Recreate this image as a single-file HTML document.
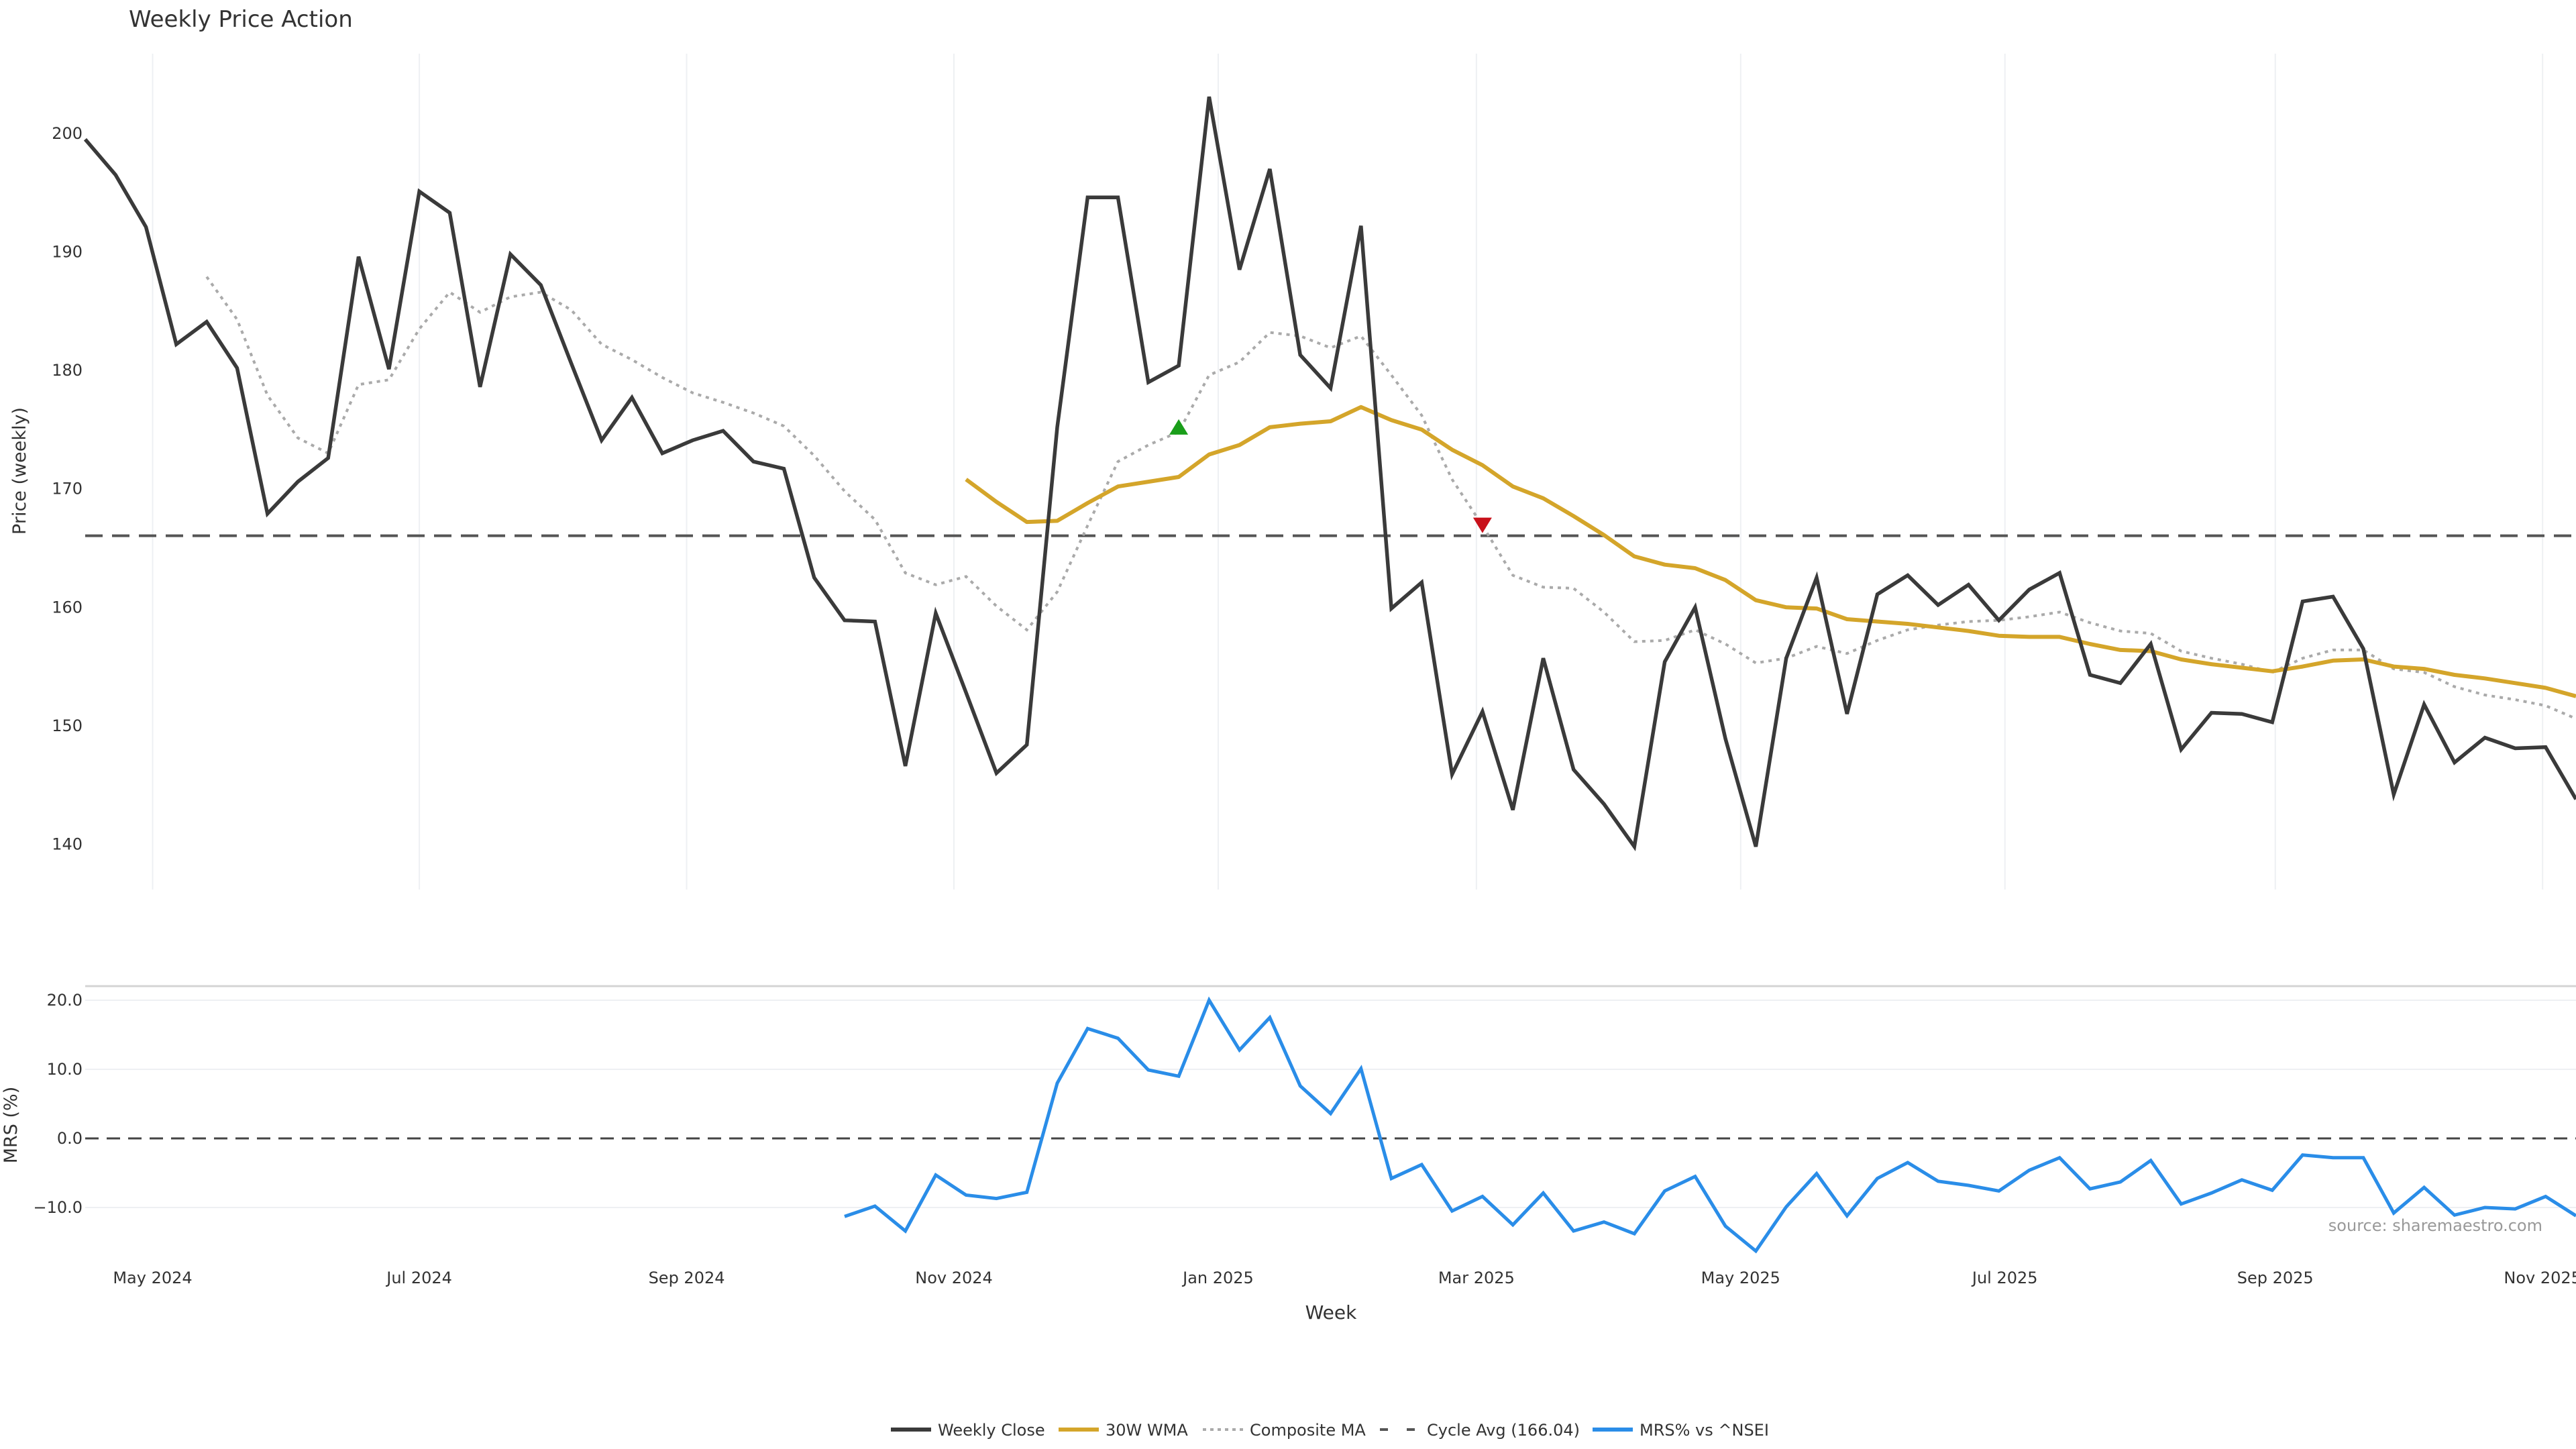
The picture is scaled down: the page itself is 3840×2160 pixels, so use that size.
<!DOCTYPE html>
<html><head><meta charset="utf-8"><style>
html,body{margin:0;padding:0;background:#fff;}
svg{display:block;font-family:"DejaVu Sans","Liberation Sans",sans-serif;}
</style></head><body>
<svg id="chart" width="3840" height="2160" viewBox="0 0 3840 2160" xmlns="http://www.w3.org/2000/svg">
<rect width="3840" height="2160" fill="#fff"/>
<text x="192" y="40" font-size="34" fill="#333">Weekly Price Action</text>
<g id="grid"></g>
<g id="price"></g>
<g id="mrs"></g>
<g id="axes"></g>
<text transform="translate(38,702) rotate(-90)" text-anchor="middle" font-size="27" fill="#333">Price (weekly)</text>
<text transform="translate(25,1677) rotate(-90)" text-anchor="middle" font-size="27" fill="#333">MRS (%)</text>
<text x="1984" y="1966" text-anchor="middle" font-size="28" fill="#333">Week</text>
<text x="3790" y="1835" text-anchor="end" font-size="24" fill="#999">source: sharemaestro.com</text>
<g id="legend"></g>
</svg>
<script>
const closeVals=[199.5,196.5,192.1,182.2,184.1,180.2,167.9,170.6,172.6,189.6,180.1,195.1,193.3,178.6,189.8,187.2,180.6,174.1,177.7,173.0,174.1,174.9,172.3,171.7,162.5,158.9,158.8,146.6,159.5,152.8,146.0,148.4,175.2,194.6,194.6,179.0,180.4,203.1,188.5,197.0,181.3,178.5,192.2,159.9,162.1,145.9,151.2,142.9,155.7,146.3,143.4,139.8,155.4,160.0,148.9,139.8,155.7,162.5,151.0,161.1,162.7,160.2,161.9,158.9,161.5,162.9,154.3,153.6,156.9,148.0,151.1,151.0,150.3,160.5,160.9,156.5,144.2,151.8,146.9,149.0,148.1,148.2,143.8];
const wmaStart=29;
const wmaVals=[170.8,168.9,167.2,167.3,168.8,170.2,170.6,171.0,172.9,173.7,175.2,175.5,175.7,176.9,175.8,175.0,173.3,172.0,170.2,169.2,167.7,166.1,164.3,163.6,163.3,162.3,160.6,160.0,159.9,159.0,158.8,158.6,158.3,158.0,157.6,157.5,157.5,156.9,156.4,156.3,155.6,155.2,154.9,154.6,155.0,155.5,155.6,155.0,154.8,154.3,154.0,153.6,153.2,152.5];
const compStart=4;
const compVals=[187.9,184.3,177.9,174.3,173.0,178.8,179.2,183.5,186.6,184.9,186.2,186.6,185.1,182.2,180.9,179.4,178.1,177.3,176.4,175.3,172.8,169.8,167.4,162.9,161.9,162.6,160.1,158.1,161.3,166.9,172.3,173.7,174.8,179.6,180.7,183.2,182.9,181.9,182.9,179.6,176.2,170.8,166.9,162.7,161.7,161.6,159.6,157.1,157.2,158.1,156.9,155.3,155.7,156.7,156.1,157.2,158.1,158.5,158.8,158.9,159.2,159.6,158.7,158.0,157.8,156.3,155.7,155.2,154.5,155.7,156.4,156.4,154.8,154.5,153.3,152.6,152.2,151.7,150.6];
const cycleAvg=166.04;
const mrsStart=25;
const mrsVals=[-11.3,-9.8,-13.4,-5.3,-8.2,-8.7,-7.8,8.0,15.9,14.5,9.9,9.0,20.0,12.8,17.5,7.6,3.6,10.1,-5.8,-3.8,-10.5,-8.4,-12.5,-7.9,-13.4,-12.1,-13.8,-7.6,-5.5,-12.7,-16.3,-9.9,-5.1,-11.2,-5.8,-3.5,-6.2,-6.8,-7.6,-4.6,-2.8,-7.3,-6.3,-3.2,-9.5,-7.9,-6.0,-7.5,-2.4,-2.8,-2.8,-10.8,-7.1,-11.1,-10.0,-10.2,-8.4,-11.2];
const buySignalIdx=[36];const buySignalVal=[175.2];
const sellSignalIdx=[46];const sellSignalVal=[167.0];
const priceTicks=[140,150,160,170,180,190,200];
const mrsTicks=[-10,0,10,20];
const monthLabels=["May 2024","Jul 2024","Sep 2024","Nov 2024","Jan 2025","Mar 2025","May 2025","Jul 2025","Sep 2025","Nov 2025"];
const monthIdx=[2.22,11.0,19.8,28.6,37.3,45.8,54.5,63.2,72.1,80.9];

const NS="http://www.w3.org/2000/svg";
const X0=127,DX=(3840-127)/82;
const xs=i=>X0+i*DX;
const yP=v=>198.9+(200-v)*17.66;
const yM=v=>1697-v*10.3;
function mk(tag,attrs,parent){const e=document.createElementNS(NS,tag);for(const k in attrs)e.setAttribute(k,attrs[k]);parent.appendChild(e);return e;}
const grid=document.getElementById('grid'),price=document.getElementById('price'),mrs=document.getElementById('mrs'),axes=document.getElementById('axes'),legend=document.getElementById('legend');

monthIdx.forEach((m,k)=>{
  const l=mk('line',{x1:xs(m),x2:xs(m),y1:80,y2:1326,stroke:'#eef0f3','stroke-width':2},grid);
  
  
  const t=mk('text',{x:xs(m),y:1913,'text-anchor':'middle','font-size':24,fill:'#333'},axes);
  t.textContent=monthLabels[k];
  
  
});
priceTicks.forEach(v=>{
  const t=mk('text',{x:123,y:yP(v)+8,'text-anchor':'end','font-size':24,fill:'#333'},axes);
  t.textContent=v;
  
  
});
const border=mk('line',{x1:127,x2:3840,y1:1470,y2:1470,stroke:'#d4d4d4','stroke-width':3},grid);


mrsTicks.forEach(v=>{
  if(v!==0){const g=mk('line',{x1:127,x2:3840,y1:yM(v),y2:yM(v),stroke:'#eef0f3','stroke-width':2},grid);
  
  }
  const t=mk('text',{x:123,y:yM(v)+8,'text-anchor':'end','font-size':24,fill:'#333'},axes);
  t.textContent=v.toFixed(1).replace('-','\u2212');
  
  
});

function path(vals,start,yf){return vals.map((v,i)=>(i?'L':'M')+xs(start+i).toFixed(1)+','+yf(v).toFixed(1)).join(' ');}

const cyc=mk('line',{x1:127,x2:3840,y1:yP(cycleAvg),y2:yP(cycleAvg),stroke:'#555','stroke-width':4,'stroke-dasharray':'26 14'},price);


const comp=mk('path',{d:path(compVals,compStart,yP),fill:'none',stroke:'#aaaaaa','stroke-width':4,'stroke-dasharray':'5 7'},price);


const wma=mk('path',{d:path(wmaVals,wmaStart,yP),fill:'none',stroke:'#d4a52a','stroke-width':6,'stroke-linejoin':'round'},price);


const cl=mk('path',{d:path(closeVals,0,yP),fill:'none',stroke:'#3a3a3a','stroke-width':5.5,'stroke-linejoin':'miter'},price);


buySignalIdx.forEach((i,k)=>{const x=xs(i),y=yP(buySignalVal[k]);
  const p=mk('path',{d:`M${x-14},${y+11} L${x+14},${y+11} L${x},${y-12} Z`,fill:'#1a9e1a'},price);
  
  });
sellSignalIdx.forEach((i,k)=>{const x=xs(i),y=yP(sellSignalVal[k]);
  const p=mk('path',{d:`M${x-14},${y-10} L${x+14},${y-10} L${x},${y+13} Z`,fill:'#c8101a'},price);
  
  });

const zero=mk('line',{x1:127,x2:3840,y1:yM(0),y2:yM(0),stroke:'#444','stroke-width':3,'stroke-dasharray':'20 12'},mrs);


const ml=mk('path',{d:path(mrsVals,mrsStart,yM),fill:'none',stroke:'#2a8de8','stroke-width':5,'stroke-linejoin':'miter'},mrs);



const legItems=[
 {t:'Weekly Close',x:1328,c:'#3a3a3a',w:6,d:''},
 {t:'30W WMA',x:1578,c:'#d4a52a',w:6,d:''},
 {t:'Composite MA',x:1793,c:'#aaaaaa',w:4,d:'5 6'},
 {t:'Cycle Avg (166.04)',x:2057,c:'#555',w:4,d:'12 28'},
 {t:'MRS% vs ^NSEI',x:2374,c:'#2a8de8',w:6,d:''}];
legItems.forEach(it=>{
  const a={x1:it.x,x2:it.x+60,y1:2131,y2:2131,stroke:it.c,'stroke-width':it.w};
  if(it.d)a['stroke-dasharray']=it.d;
  const l=mk('line',a,legend);
  
  
  const t=mk('text',{x:it.x+70,y:2140,'font-size':24,fill:'#333'},legend);
  t.textContent=it.t;
  
  
});
</script>
</body></html>
